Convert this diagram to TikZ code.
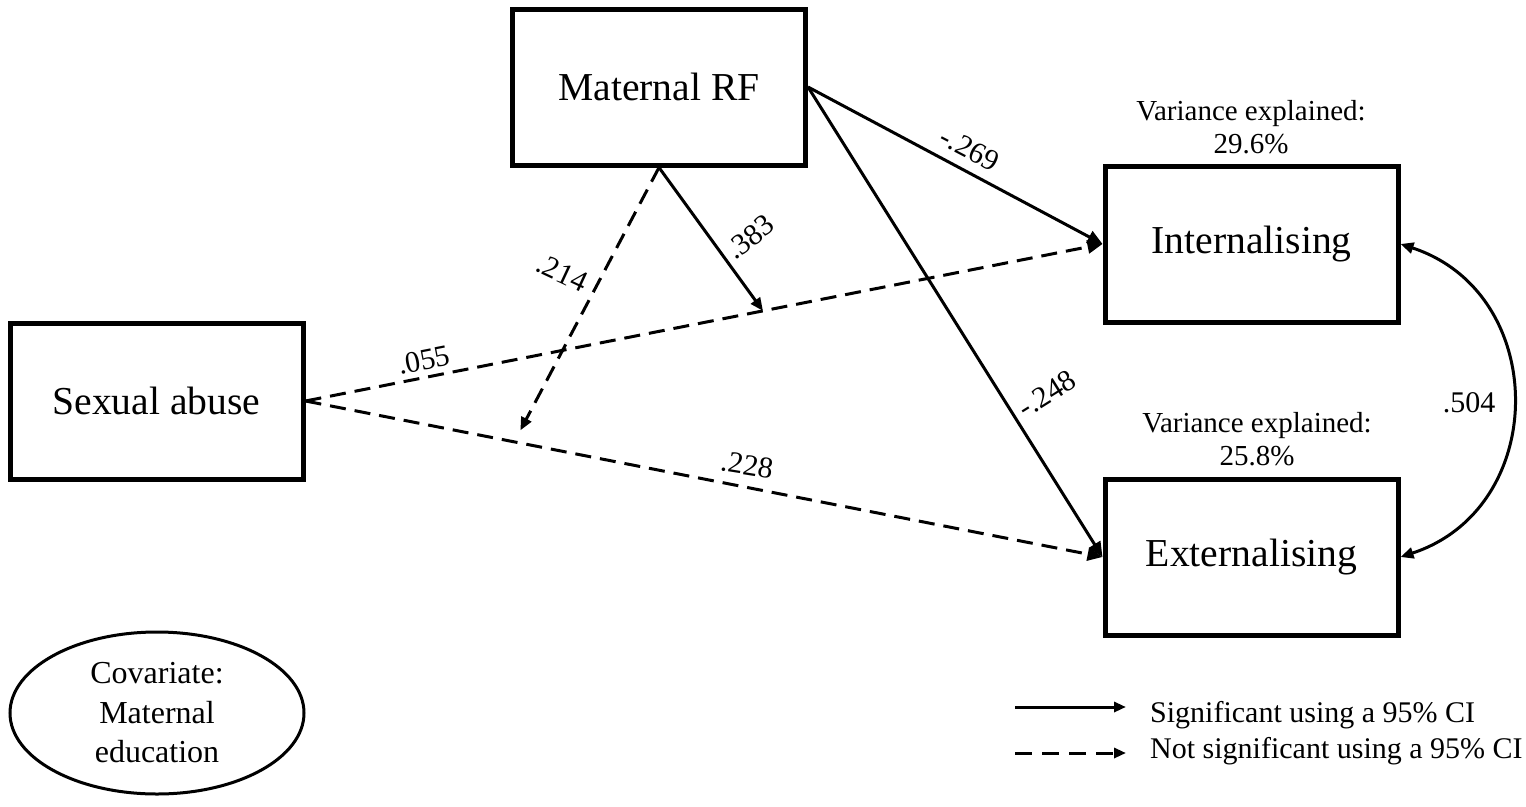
\documentclass[tikz,border=0pt]{standalone}
\usepackage{fontspec}
\setmainfont{Liberation Serif}
\usetikzlibrary{arrows.meta,shapes.geometric}
\begin{document}
\begin{tikzpicture}[x=1pt,y=-1pt,
  box/.style={draw,line width=5pt,minimum width=293pt,minimum height=156pt,inner sep=0pt,font=\fontsize{39.6}{44}\selectfont},
  lab/.style={font=\fontsize{30}{34}\selectfont,inner sep=0pt},
  var/.style={font=\fontsize{29}{33}\selectfont,inner sep=0pt,anchor=base},
  tip/.style={Triangle[length=15pt,width=13pt]},
  smalltip/.style={Triangle[length=12pt,width=10pt]},
  sig/.style={line width=3pt,-{Triangle[length=15pt,width=13pt]}},
  nsig/.style={line width=3pt,dash pattern=on 16pt off 9pt,-{Triangle[length=15pt,width=13pt]}},
  ]
\useasboundingbox (0,0) rectangle (1526,806);
% boxes
\node[box] (mrf) at (659,87) {Maternal RF};
\node[box] (sa) at (156.5,401) {Sexual abuse};
\node[box] (int) at (1251.5,244) {Internalising};
\node[box] (ext) at (1251.5,557) {Externalising};
\node[draw,ellipse,line width=3pt,minimum width=294pt,minimum height=162pt,inner sep=0pt,align=center,
      font=\fontsize{32}{39.5}\selectfont] (cov) at (157,713) {Covariate:\\Maternal\\education};
% variance explained
\node[var] (v1a) at (1251,120) {Variance explained:};
\node[var] (v1b) at (1251,153) {29.6\%};
\node[var] (v2a) at (1257,432) {Variance explained:};
\node[var] (v2b) at (1257,465) {25.8\%};
% connectors
\draw[sig] (mrf.east) -- (int.west);
\draw[sig] (mrf.east) -- (ext.west);
\draw[nsig] (sa.east) -- coordinate[pos=0.574] (p1) (int.west);
\draw[nsig] (sa.east) -- coordinate[pos=0.262] (p2) (ext.west);
\draw[line width=3pt,-{Triangle[length=13pt,width=11pt]}] (mrf.south) -- (p1);
\draw[line width=3pt,dash pattern=on 16pt off 9pt,-{Triangle[length=13pt,width=11pt]},shorten >=13pt] (mrf.south) -- (p2);
\draw[line width=3pt,{Triangle[length=13pt,width=11pt]}-{Triangle[length=13pt,width=11pt]}]
  (int.east) .. controls (1550,293) and (1550,508) .. (ext.east);
% path labels
\node[lab,rotate=-27.5] (l269) at (970,149) {-.269};
\node[lab,rotate=32] (l248) at (1047,394) {-.248};
\node[lab,rotate=38] (l383) at (750,237) {.383};
\node[lab,rotate=-25] (l214) at (562,273) {.214};
\node[lab,rotate=11] (l055) at (424,360) {.055};
\node[lab,rotate=-9] (l228) at (747,465) {.228};
\node[lab] (l504) at (1469,403) {.504};
% legend
\coordinate (ls1) at (1015,707);
\coordinate (le1) at (1126,707);
\coordinate (ls2) at (1015,753);
\coordinate (le2) at (1126,753);
\draw[line width=3pt,-{Triangle[length=12pt,width=10pt]}] (ls1) -- (le1);
\draw[line width=3pt,dash pattern=on 17pt off 10pt,-{Triangle[length=12pt,width=10pt]}] (ls2) -- (le2);
\node[lab,anchor=base west] (t1) at (1150,722) {Significant using a 95\% CI};
\node[lab,anchor=base west] (t2) at (1150,758) {Not significant using a 95\% CI};
\end{tikzpicture}
\end{document}
